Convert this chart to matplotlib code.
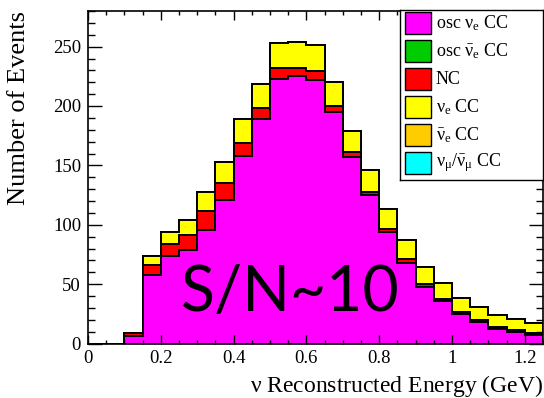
import numpy as np
import matplotlib.pyplot as plt
from matplotlib.patches import Rectangle
from matplotlib.ticker import MultipleLocator

plt.rcParams['font.family'] = ['Liberation Serif', 'DejaVu Serif']
plt.rcParams['mathtext.fontset'] = 'custom'
plt.rcParams['mathtext.rm'] = 'Liberation Serif'
plt.rcParams['mathtext.it'] = 'Liberation Serif'

# bin edges in GeV (25 bins of 0.05)
bin_edges = np.round(np.arange(0, 1.2501, 0.05), 3)

# events per bin for each sample, bottom of the stack first
osc_nue = [0, 0, 6, 58, 74, 79, 96, 121, 158, 189, 223, 225, 222, 195, 157, 125, 94, 68, 48, 36, 25, 18, 12, 10, 7]
osc_nuebar = [0] * 25
nc = [0, 0, 3, 8.5, 10, 12, 16, 14, 11, 9, 9, 7, 7.5, 5, 4, 3, 2.5, 3, 1.7, 1.6, 1.3, 1.6, 1.7, 1.7, 2]
nue_cc = [0, 0, 0, 7, 10, 13, 16, 18, 20, 20.5, 21, 22, 21.7, 20, 18, 18, 17, 16, 14.7, 13.5, 12, 11, 10.7, 9.3, 8]
nuebar_cc = [0] * 25
numu_cc = [0] * 25

labels = [r'osc $\nu_{e}$ CC', r'osc $\bar{\nu}_{e}$ CC', 'NC',
          r'$\nu_{e}$ CC', r'$\bar{\nu}_{e}$ CC', r'$\nu_{\mu}/\bar{\nu}_{\mu}$ CC']
colors = ['#ff00ff', '#00cc00', '#ff0000', '#ffff00', '#ffcc00', '#00ffff']
samples = [osc_nue, osc_nuebar, nc, nue_cc, nuebar_cc, numu_cc]

fig = plt.figure(figsize=(5.44, 3.98), dpi=100)
ax = fig.add_axes([88 / 544, 1 - 343.5 / 398, 455 / 544, 332.5 / 398])

# cumulative stack, drawn from the top layer down like THStack
cum = np.cumsum(np.array(samples, dtype=float), axis=0)
for k in range(len(samples) - 1, -1, -1):
    ax.stairs(cum[k], bin_edges, baseline=0, fill=True, color=colors[k], lw=0)
    ax.stairs(cum[k], bin_edges, baseline=0, color='black', lw=1.4)

ax.set_xlim(0, 1.25)
ax.set_ylim(0, 280)

ax.xaxis.set_major_locator(MultipleLocator(0.2))
ax.xaxis.set_minor_locator(MultipleLocator(0.05))
ax.yaxis.set_major_locator(MultipleLocator(50))
ax.yaxis.set_minor_locator(MultipleLocator(10))
ax.xaxis.set_major_formatter(plt.FuncFormatter(lambda v, p: f'{v:g}'))
ax.tick_params(which='both', direction='in', top=True, right=True, labelsize=13.5)
ax.tick_params(axis='x', which='major', length=6.5, width=1, pad=5)
ax.tick_params(axis='x', which='minor', length=3.2, width=1)
ax.tick_params(axis='y', which='major', length=10, width=1, pad=5)
ax.tick_params(axis='y', which='minor', length=5, width=1)
for s in ax.spines.values():
    s.set_linewidth(1.2)

ax.set_xlabel(r'$\nu$ Reconstructed Energy (GeV)', fontsize=17, loc='right')
ax.set_ylabel('Number of Events', fontsize=19, loc='top')
ax.yaxis.set_label_coords(-0.127, 1.0)

ax.text(0.445, 0.153, 'S/N~10', transform=ax.transAxes, family='Lato',
        fontsize=45, ha='center', va='center')

# legend box
lax = fig.add_axes([400 / 544, 1 - 180 / 398, 143 / 544, 170 / 398])
lax.set_xlim(0, 143)
lax.set_ylim(170, 0)
lax.set_xticks([])
lax.set_yticks([])
for s in lax.spines.values():
    s.set_linewidth(1)
for i, (lab, c) in enumerate(zip(labels, colors)):
    yc = 13 + 28 * i
    lax.add_patch(Rectangle((5, yc - 11), 26, 22, facecolor=c, edgecolor='black', lw=1))
    lax.text(36, yc, lab, fontsize=13, va='center', ha='left')

fig.savefig('out.png', dpi=100)
